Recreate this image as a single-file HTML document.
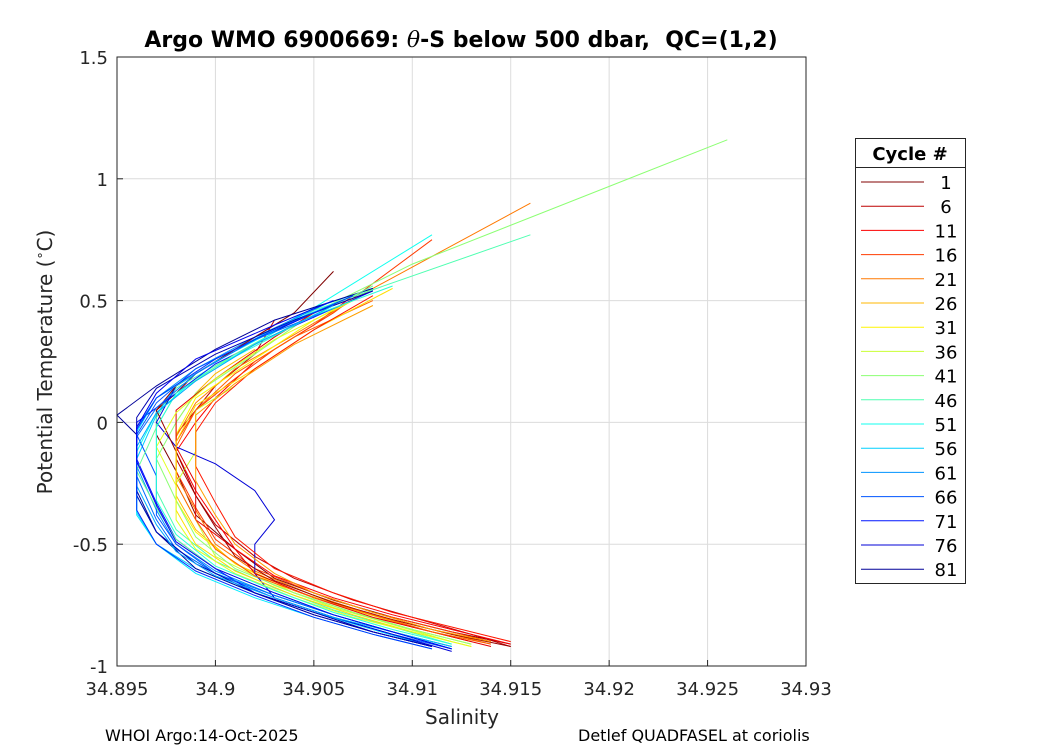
<!DOCTYPE html>
<html><head><meta charset="utf-8"><style>
body{margin:0;background:#fff;}
svg{display:block;font-family:"DejaVu Sans","Liberation Sans",sans-serif;}
</style></head><body>
<svg id="chart" width="1050" height="750" viewBox="0 0 1050 750">
<rect width="1050" height="750" fill="#fff"/>
<text x="461" y="47" text-anchor="middle" font-size="22" font-weight="bold" xml:space="preserve">Argo WMO 6900669: <tspan font-style="italic" font-weight="normal" font-family="DejaVu Serif,serif">θ</tspan>-S below 500 dbar,  QC=(1,2)</text>
<g id="grid"></g>
<g id="series"></g>
<rect x="117" y="57" width="689" height="609" fill="none" stroke="#262626" stroke-width="1"/>
<g id="ticks"></g>
<text x="462" y="724" text-anchor="middle" font-size="20" fill="#262626">Salinity</text>
<text transform="translate(52,362) rotate(-90)" text-anchor="middle" font-size="20" fill="#262626">Potential Temperature (<tspan dy="-8" font-size="13">∘</tspan><tspan dy="8">C)</tspan></text>
<g id="legend">
<rect x="855.5" y="138.5" width="110" height="445" fill="#fff" stroke="#262626"/>
<line x1="855.5" y1="167.5" x2="965.5" y2="167.5" stroke="#262626"/>
<text x="910" y="160" text-anchor="middle" font-size="18" font-weight="bold">Cycle #</text>
</g>
<text x="105" y="741" font-size="16">WHOI Argo:14-Oct-2025</text>
<text x="578" y="741" font-size="16">Detlef QUADFASEL at coriolis</text>
</svg>
<script>
const xTicks=[34.895,34.9,34.905,34.91,34.915,34.92,34.925,34.93];
const xTickLabels=["34.895","34.9","34.905","34.91","34.915","34.92","34.925","34.93"];
const yTicks=[-1,-0.5,0,0.5,1,1.5];
const yTickLabels=["-1","-0.5","0","0.5","1","1.5"];
const legendCycles=[1,6,11,16,21,26,31,36,41,46,51,56,61,66,71,76,81];
const cycles=[1,6,11,16,21,26,31,36,41,46,51,56,61,66,71,76,81,3,9,19,29,44,54,64,79,13,24,34,49,59,69,74];
const profiles=[
[[34.915,-0.91],[34.912,-0.86],[34.909,-0.80],[34.906,-0.73],[34.903,-0.64],[34.901,-0.52],[34.899,-0.38],[34.898,-0.2],[34.897,-0.05],[34.897,0.05],[34.898,0.12],[34.899,0.2],[34.901,0.3],[34.904,0.45],[34.906,0.62]],
[[34.915,-0.92],[34.913,-0.87],[34.910,-0.80],[34.907,-0.73],[34.904,-0.64],[34.902,-0.55],[34.900,-0.42],[34.899,-0.30],[34.898,-0.15],[34.898,-0.05],[34.899,0.05],[34.900,0.15],[34.902,0.28],[34.903,0.42]],
[[34.915,-0.91],[34.912,-0.85],[34.909,-0.79],[34.906,-0.72],[34.903,-0.63],[34.901,-0.52],[34.900,-0.40],[34.899,-0.28],[34.898,-0.12],[34.899,0.0],[34.900,0.10],[34.902,0.25],[34.905,0.40],[34.907,0.52]],
[[34.914,-0.90],[34.911,-0.84],[34.908,-0.78],[34.905,-0.70],[34.902,-0.60],[34.900,-0.48],[34.899,-0.35],[34.898,-0.20],[34.898,-0.08],[34.899,0.05],[34.901,0.18],[34.903,0.30],[34.906,0.45],[34.911,0.75]],
[[34.914,-0.91],[34.911,-0.85],[34.908,-0.79],[34.905,-0.71],[34.902,-0.61],[34.900,-0.50],[34.899,-0.36],[34.898,-0.22],[34.898,-0.06],[34.899,0.08],[34.901,0.22],[34.904,0.36],[34.908,0.55],[34.916,0.90]],
[[34.913,-0.90],[34.910,-0.84],[34.907,-0.77],[34.904,-0.69],[34.901,-0.58],[34.899,-0.44],[34.898,-0.30],[34.898,-0.15],[34.898,0.0],[34.899,0.12],[34.900,0.20],[34.902,0.30]],
[[34.913,-0.91],[34.910,-0.85],[34.907,-0.78],[34.904,-0.70],[34.901,-0.58],[34.899,-0.45],[34.898,-0.32],[34.898,-0.18],[34.898,-0.05],[34.899,0.10],[34.902,0.26],[34.905,0.42],[34.908,0.55]],
[[34.912,-0.90],[34.909,-0.83],[34.906,-0.76],[34.903,-0.67],[34.900,-0.55],[34.899,-0.40],[34.898,-0.25],[34.899,-0.12],[34.899,0.05],[34.901,0.15]],
[[34.913,-0.91],[34.910,-0.85],[34.907,-0.78],[34.904,-0.70],[34.901,-0.60],[34.899,-0.47],[34.898,-0.32],[34.897,-0.15],[34.898,0.0],[34.899,0.12],[34.902,0.28],[34.905,0.45],[34.910,0.65],[34.926,1.16]],
[[34.912,-0.91],[34.909,-0.84],[34.906,-0.77],[34.903,-0.68],[34.900,-0.57],[34.898,-0.44],[34.897,-0.28],[34.897,-0.12],[34.897,0.02],[34.898,0.14],[34.901,0.28],[34.905,0.46],[34.916,0.77]],
[[34.912,-0.93],[34.909,-0.86],[34.906,-0.79],[34.903,-0.71],[34.900,-0.62],[34.898,-0.52],[34.897,-0.45],[34.896,-0.30],[34.896,-0.12],[34.897,0.04],[34.899,0.18],[34.902,0.32],[34.906,0.52],[34.911,0.77]],
[[34.911,-0.92],[34.908,-0.85],[34.905,-0.78],[34.902,-0.70],[34.899,-0.60],[34.897,-0.50],[34.896,-0.37],[34.896,-0.15],[34.897,0.03],[34.898,0.15],[34.901,0.30],[34.905,0.47],[34.908,0.55]],
[[34.912,-0.92],[34.909,-0.86],[34.906,-0.79],[34.903,-0.71],[34.900,-0.61],[34.898,-0.50],[34.897,-0.36],[34.896,-0.18],[34.896,-0.02],[34.897,0.10],[34.899,0.22],[34.902,0.35],[34.906,0.50]],
[[34.912,-0.93],[34.909,-0.87],[34.906,-0.80],[34.903,-0.72],[34.900,-0.62],[34.898,-0.50],[34.897,-0.38],[34.897,-0.22],[34.896,-0.05],[34.897,0.08],[34.899,0.22],[34.902,0.34],[34.907,0.52]],
[[34.911,-0.92],[34.908,-0.86],[34.905,-0.79],[34.902,-0.70],[34.900,-0.60],[34.898,-0.48],[34.897,-0.33],[34.896,-0.15],[34.896,0.0],[34.898,0.12],[34.900,0.24],[34.903,0.36],[34.908,0.54]],
[[34.912,-0.94],[34.909,-0.87],[34.906,-0.80],[34.903,-0.72],[34.902,-0.62],[34.902,-0.50],[34.903,-0.40],[34.902,-0.28],[34.900,-0.17],[34.898,-0.10],[34.897,0.0],[34.898,0.15],[34.901,0.30],[34.905,0.45]],
[[34.911,-0.92],[34.908,-0.86],[34.905,-0.79],[34.902,-0.70],[34.899,-0.60],[34.897,-0.45],[34.896,-0.28],[34.896,-0.05],[34.895,0.03],[34.897,0.15],[34.900,0.30],[34.903,0.42],[34.908,0.55]],
[[34.915,-0.92],[34.912,-0.87],[34.909,-0.81],[34.906,-0.74],[34.903,-0.65],[34.901,-0.55],[34.900,-0.43],[34.899,-0.30],[34.898,-0.12],[34.897,0.05],[34.898,0.15],[34.900,0.25],[34.903,0.40]],
[[34.914,-0.92],[34.911,-0.86],[34.908,-0.80],[34.905,-0.72],[34.902,-0.62],[34.901,-0.52],[34.899,-0.40],[34.899,-0.25],[34.898,-0.10],[34.898,0.05],[34.900,0.18],[34.903,0.35],[34.905,0.45]],
[[34.914,-0.91],[34.911,-0.86],[34.908,-0.79],[34.905,-0.72],[34.902,-0.63],[34.900,-0.52],[34.899,-0.40],[34.898,-0.25],[34.898,-0.10],[34.899,0.05],[34.901,0.20],[34.904,0.35],[34.908,0.50]],
[[34.913,-0.92],[34.910,-0.86],[34.907,-0.79],[34.904,-0.71],[34.901,-0.61],[34.899,-0.50],[34.898,-0.36],[34.898,-0.22],[34.898,-0.08],[34.899,0.07],[34.902,0.22],[34.905,0.38],[34.909,0.55]],
[[34.912,-0.92],[34.909,-0.86],[34.906,-0.79],[34.903,-0.70],[34.900,-0.60],[34.898,-0.48],[34.897,-0.35],[34.896,-0.20],[34.897,-0.02],[34.898,0.12],[34.901,0.28],[34.905,0.44],[34.908,0.56]],
[[34.911,-0.93],[34.908,-0.87],[34.905,-0.80],[34.902,-0.72],[34.899,-0.62],[34.897,-0.50],[34.896,-0.38],[34.896,-0.20],[34.896,-0.04],[34.897,0.10],[34.900,0.25],[34.904,0.42],[34.907,0.52]],
[[34.912,-0.93],[34.909,-0.86],[34.906,-0.79],[34.903,-0.71],[34.900,-0.62],[34.898,-0.52],[34.897,-0.40],[34.896,-0.22],[34.896,-0.06],[34.897,0.06],[34.899,0.20],[34.902,0.34],[34.907,0.50]],
[[34.911,-0.92],[34.908,-0.86],[34.905,-0.78],[34.902,-0.70],[34.899,-0.58],[34.897,-0.45],[34.896,-0.30],[34.896,-0.12],[34.896,0.02],[34.897,0.14],[34.900,0.28],[34.904,0.42],[34.908,0.54]],
[[34.915,-0.90],[34.912,-0.84],[34.909,-0.78],[34.906,-0.70],[34.903,-0.60],[34.901,-0.47],[34.900,-0.33],[34.899,-0.18],[34.899,-0.04],[34.900,0.08],[34.902,0.22],[34.905,0.38],[34.908,0.52]],
[[34.914,-0.90],[34.911,-0.85],[34.908,-0.78],[34.905,-0.70],[34.903,-0.62],[34.901,-0.50],[34.900,-0.38],[34.899,-0.24],[34.899,-0.10],[34.899,0.03],[34.901,0.16],[34.904,0.32],[34.908,0.48]],
[[34.913,-0.92],[34.910,-0.86],[34.907,-0.80],[34.904,-0.72],[34.901,-0.62],[34.899,-0.52],[34.898,-0.40],[34.898,-0.26],[34.897,-0.10],[34.898,0.04],[34.900,0.18],[34.903,0.34],[34.907,0.50]],
[[34.912,-0.91],[34.909,-0.85],[34.906,-0.78],[34.903,-0.69],[34.900,-0.59],[34.898,-0.46],[34.897,-0.32],[34.897,-0.16],[34.897,-0.02],[34.898,0.12],[34.901,0.27],[34.905,0.44],[34.909,0.56]],
[[34.912,-0.92],[34.909,-0.86],[34.906,-0.80],[34.903,-0.72],[34.900,-0.63],[34.898,-0.53],[34.897,-0.42],[34.896,-0.26],[34.896,-0.10],[34.897,0.04],[34.899,0.17],[34.902,0.32],[34.906,0.48]],
[[34.911,-0.93],[34.908,-0.87],[34.905,-0.80],[34.902,-0.71],[34.899,-0.61],[34.897,-0.50],[34.896,-0.36],[34.896,-0.18],[34.896,-0.03],[34.897,0.10],[34.900,0.26],[34.903,0.38],[34.907,0.52]],
[[34.912,-0.93],[34.909,-0.86],[34.906,-0.79],[34.903,-0.70],[34.900,-0.60],[34.898,-0.49],[34.897,-0.34],[34.896,-0.16],[34.896,-0.02],[34.897,0.12],[34.899,0.26],[34.903,0.40],[34.906,0.50]]
];
const NS="http://www.w3.org/2000/svg";
const X0=117,X1=806,Y0=666,Y1=57,SMIN=34.895,SMAX=34.93,TMIN=-1,TMAX=1.5;
function sx(s){return X0+(s-SMIN)/(SMAX-SMIN)*(X1-X0);}
function ty(t){return Y0-(t-TMIN)/(TMAX-TMIN)*(Y0-Y1);}
function jet(c){const v=1-(c-1)/82;const f=x=>Math.max(0,Math.min(1,1.5-Math.abs(4*v-x)));
 return `rgb(${Math.round(255*f(3))},${Math.round(255*f(2))},${Math.round(255*f(1))})`;}
function mk(tag,attrs,parent){const e=document.createElementNS(NS,tag);for(const k in attrs)e.setAttribute(k,attrs[k]);parent.appendChild(e);return e;}
const grid=document.getElementById('grid'),ticks=document.getElementById('ticks'),series=document.getElementById('series'),legend=document.getElementById('legend');
xTicks.forEach((v,i)=>{const x=sx(v);
 const g=mk('line',{x1:x,y1:Y1,x2:x,y2:Y0,stroke:'#dcdcdc','stroke-width':1},grid);
 
 
 mk('line',{x1:x,y1:Y0,x2:x,y2:Y0-6,stroke:'#262626'},ticks);
 const t=mk('text',{x:x,y:Y0+29,'text-anchor':'middle','font-size':18,fill:'#262626'},ticks);
 t.textContent=xTickLabels[i];
 
 });
yTicks.forEach((v,i)=>{const y=ty(v);
 const g=mk('line',{x1:X0,y1:y,x2:X1,y2:y,stroke:'#dcdcdc','stroke-width':1},grid);
 
 
 mk('line',{x1:X0,y1:y,x2:X0+6,y2:y,stroke:'#262626'},ticks);
 const t=mk('text',{x:X0-9,y:y+7,'text-anchor':'end','font-size':18,fill:'#262626'},ticks);
 t.textContent=yTickLabels[i];
 
 });
profiles.forEach((p,i)=>{
 const pl=mk('polyline',{points:p.map(d=>sx(d[0]).toFixed(1)+','+ty(d[1]).toFixed(1)).join(' '),fill:'none',stroke:jet(cycles[i]),'stroke-width':1},series);
 
 });
legendCycles.forEach((c,i)=>{const y=182+i*24.2;
 const l=mk('line',{x1:861,y1:y,x2:924,y2:y,stroke:jet(c),'stroke-width':1},legend);
 
 
 const t=mk('text',{x:946,y:y+7,'text-anchor':'middle','font-size':18},legend);
 t.textContent=c;
 
 });
</script>
</body></html>
